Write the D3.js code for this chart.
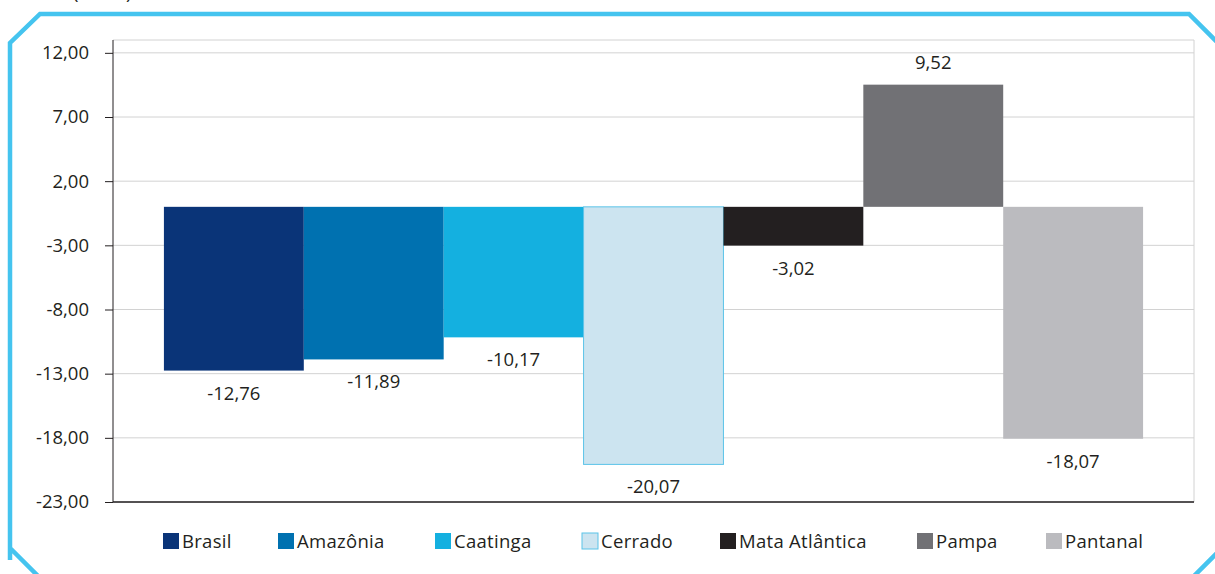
<!DOCTYPE html>
<html><head><meta charset="utf-8">
<script src="https://cdn.jsdelivr.net/npm/d3@7/dist/d3.min.js"></script>
<style>body{margin:0;background:#fff;}svg{display:block;font-family:"Open Sans","Noto Sans",sans-serif;}</style>
</head><body>
<svg id="c" width="1215" height="574"></svg>
<script>
const categories = ["Brasil","Amazônia","Caatinga","Cerrado","Mata Atlântica","Pampa","Pantanal"];
const values = [-12.76,-11.89,-10.17,-20.07,-3.02,9.52,-18.07];
const valueLabels = ["-12,76","-11,89","-10,17","-20,07","-3,02","9,52","-18,07"];
const yTicks = [12,7,2,-3,-8,-13,-18,-23];
const colors = ["#0a3478","#0071b0","#14b0e0","#cce4f0","#231f20","#717175","#bbbbbf"];
const legendX = [163,278,435,582,720,917,1046];

const svg = d3.select("#c");
const L=113, R=1194, T=40, B=502;
const FS = 18.5;
const x = d3.scaleBand().domain(categories).range([L,R]).paddingInner(0).paddingOuter(0.364);
const y = d3.scaleLinear().domain([-23,13]).range([B,T]);
const fmt = d => d.toFixed(2).replace(".", ",");

// frame
svg.append("path")
  .attr("d","M10,560 L10,43 L40,14 L1189,14 L1225,50 M1190,580 L1225,545 M10,548 L40,578")
  .attr("fill","none").attr("stroke","#45c4ef").attr("stroke-width",4.5);
svg.append("text").attr("x",73).attr("y",-1).attr("font-size",FS).attr("fill","#231f20").text("(em %)");

// grid
svg.append("g").selectAll("line").data(yTicks).join("line")
  .attr("x1",L).attr("x2",R).attr("y1",d=>y(d)).attr("y2",d=>y(d))
  .attr("stroke","#d2d2d2").attr("stroke-width",1);
svg.append("line").attr("x1",L).attr("x2",R).attr("y1",T).attr("y2",T).attr("stroke","#d2d2d2");
svg.append("line").attr("x1",R).attr("x2",R).attr("y1",T).attr("y2",B).attr("stroke","#d2d2d2");

// bars
svg.append("g").selectAll("rect").data(categories).join("rect")
  .attr("x",d=>x(d)).attr("width",x.bandwidth())
  .attr("y",(d,i)=>y(Math.max(0,values[i])))
  .attr("height",(d,i)=>Math.abs(y(values[i])-y(0)))
  .attr("fill",(d,i)=>colors[i])
  .attr("stroke",(d,i)=>i===3?"#5bc3e8":"none").attr("stroke-width",1);

// value labels
svg.append("g").selectAll("text").data(categories).join("text")
  .attr("x",d=>x(d)+x.bandwidth()/2)
  .attr("y",(d,i)=>values[i]<0 ? y(values[i])+29 : y(values[i])-16)
  .attr("text-anchor","middle").attr("font-size",FS).attr("fill","#231f20")
  .text((d,i)=>valueLabels[i]);

// axes
const ya = svg.append("g").attr("transform",`translate(${L},0)`)
  .call(d3.axisLeft(y).tickValues(yTicks).tickFormat(fmt).tickSize(8).tickPadding(16));
ya.select(".domain").attr("stroke","#231f20").attr("d",`M0,${T}V${B}`);
ya.selectAll(".tick line").attr("stroke","#231f20");
ya.selectAll(".tick text").attr("font-size",FS).attr("fill","#231f20").attr("font-family","'Open Sans','Noto Sans',sans-serif");
svg.append("line").attr("x1",L).attr("x2",R).attr("y1",B).attr("y2",B).attr("stroke","#231f20").attr("stroke-width",1.5);

// legend
const lg = svg.append("g").selectAll("g").data(categories).join("g")
  .attr("transform",(d,i)=>`translate(${legendX[i]},533)`);
lg.append("rect").attr("width",16).attr("height",16)
  .attr("fill",(d,i)=>colors[i]).attr("stroke",(d,i)=>i===3?"#5bc3e8":"none");
lg.append("text").attr("x",19).attr("y",15).attr("font-size",FS).attr("letter-spacing",0.3).attr("fill","#231f20").text(d=>d);
</script>
</body></html>
